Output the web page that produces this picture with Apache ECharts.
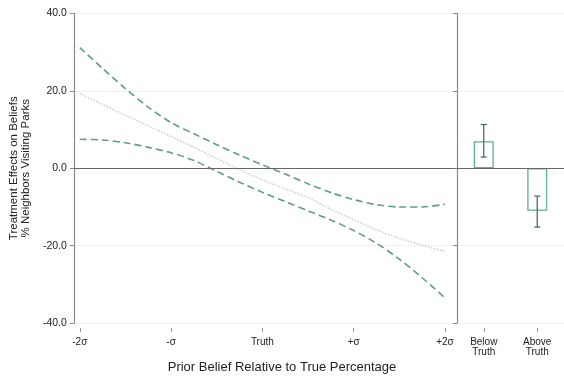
<!DOCTYPE html>
<html>
<head>
<meta charset="utf-8">
<script src="https://cdn.jsdelivr.net/npm/echarts@6/dist/echarts.min.js"></script>
<style>html,body{margin:0;padding:0;background:#fff}#c{width:564px;height:379px}</style>
</head>
<body>
<div id="c"></div>
<script>
// ---- data ----
var sigmaGrid = [-2, -1.75, -1.5, -1.25, -1, -0.75, -0.5, -0.25, 0, 0.25, 0.5, 0.75, 1, 1.25, 1.5, 1.75, 2];
var upperCI  = [31.2, 25.8, 20.6, 15.8, 11.8, 8.9, 6.1, 3.4, 0.9, -1.5, -4.0, -6.3, -8.1, -9.4, -10.0, -10.0, -9.3];
var estimate = [19.3, 16.5, 13.7, 11.0, 8.2, 5.4, 2.5, -0.4, -3.0, -5.3, -7.6, -10.6, -13.3, -15.9, -18.1, -19.9, -21.5];
var lowerCI  = [7.5, 7.3, 6.6, 5.4, 4.0, 2.0, -0.8, -3.6, -6.2, -8.6, -11.0, -13.4, -16.1, -19.4, -23.5, -28.3, -33.5];
var xTickValues = [-2, -1, 0, 1, 2];
var xTickLabels = ['-2σ', '-σ', 'Truth', '+σ', '+2σ'];
var barCategories = ['Below\nTruth', 'Above\nTruth'];
var barValues = [7.0, -11.0];
var barErrLow = [2.9, -15.2];
var barErrHigh = [11.3, -7.2];

function pairs(ys) { return sigmaGrid.map(function (x, i) { return [x, ys[i]]; }); }

var FONT = 'Liberation Sans';
var chart = echarts.init(document.getElementById('c'), null, {renderer: 'canvas'});

var dashStyle = {color: '#5f9d89', width: 1.6, type: [7, 4]};

chart.setOption({
  animation: false,
  textStyle: {fontFamily: FONT},
  title: {
    text: 'Prior Belief Relative to True Percentage',
    left: 'center', top: 356,
    textStyle: {fontFamily: FONT, fontSize: 13, fontWeight: 'normal', color: '#222'}
  },
  grid: [
    {left: 71, width: 384, top: 13.5, height: 309.5},
    {left: 457, width: 107, top: 13.5, height: 309.5}
  ],
  xAxis: [
    {
      type: 'value', gridIndex: 0, min: -2.065, max: 2.11, offset: 5,
      axisLine: {show: false, onZero: false},
      axisTick: {show: true, customValues: xTickValues, length: 4, lineStyle: {color: '#999'}},
      axisLabel: {
        customValues: xTickValues, margin: 9, fontSize: 10, color: '#222',
        formatter: function (v) { var i = xTickValues.indexOf(v); return i >= 0 ? xTickLabels[i] : ''; }
      },
      splitLine: {show: false}
    },
    {
      type: 'category', gridIndex: 1, data: barCategories, offset: 5,
      axisLine: {show: false, onZero: false},
      axisTick: {show: true, alignWithLabel: true, length: 4, lineStyle: {color: '#999'}},
      axisLabel: {margin: 9, fontSize: 10, lineHeight: 10, color: '#222'},
      splitLine: {show: false}
    }
  ],
  yAxis: [
    {
      type: 'value', gridIndex: 0, min: -40, max: 40, interval: 20,
      axisLine: {show: true, onZero: false, lineStyle: {color: '#8a8a8a', width: 1.2}},
      axisTick: {show: true, length: 4, lineStyle: {color: '#8a8a8a'}},
      axisLabel: {fontSize: 10.5, color: '#222', margin: 7, formatter: function (v) { return v.toFixed(1); }},
      splitLine: {show: true, lineStyle: {color: '#f1f1f1', width: 1}},
      name: 'Treatment Effects on Beliefs\n% Neighbors Visiting Parks',
      nameLocation: 'middle', nameGap: 40, nameRotate: 90,
      nameTextStyle: {fontSize: 11.5, lineHeight: 12, color: '#222', fontFamily: FONT}
    },
    {
      type: 'value', gridIndex: 1, min: -40, max: 40, interval: 20,
      axisLine: {show: true, onZero: false, lineStyle: {color: '#8a8a8a', width: 1.2}},
      axisTick: {show: true, length: 4, lineStyle: {color: '#8a8a8a'}},
      axisLabel: {show: false},
      splitLine: {show: true, lineStyle: {color: '#f1f1f1', width: 1}}
    }
  ],
  series: [
    {
      type: 'line', xAxisIndex: 0, yAxisIndex: 0, data: pairs(estimate), smooth: 0.3,
      showSymbol: false, lineStyle: {color: '#cfcfcf', width: 1.6, type: [1.5, 1.5]},
      markLine: {
        silent: true, symbol: 'none', label: {show: false},
        lineStyle: {color: '#666', width: 1.2, type: 'solid'},
        data: [{yAxis: 0}]
      }
    },
    {
      type: 'line', xAxisIndex: 0, yAxisIndex: 0, data: pairs(upperCI), smooth: 0.3,
      showSymbol: false, lineStyle: dashStyle
    },
    {
      type: 'line', xAxisIndex: 0, yAxisIndex: 0, data: pairs(lowerCI), smooth: 0.3,
      showSymbol: false, lineStyle: dashStyle
    },
    {
      type: 'bar', xAxisIndex: 1, yAxisIndex: 1, data: barValues, barWidth: 20,
      itemStyle: {color: 'rgba(255,255,255,0)', borderColor: '#5cb38f', borderWidth: 1.3},
      markLine: {
        silent: true, symbol: 'none', label: {show: false},
        lineStyle: {color: '#666', width: 1.2, type: 'solid'},
        data: [{yAxis: 0}]
      },
      z: 3
    },
    {
      type: 'custom', xAxisIndex: 1, yAxisIndex: 1,
      data: barCategories.map(function (c, i) { return [i, barErrLow[i], barErrHigh[i]]; }),
      renderItem: function (params, api) {
        var lo = api.coord([api.value(0), api.value(1)]);
        var hi = api.coord([api.value(0), api.value(2)]);
        var w = 3;
        var st = {stroke: '#4d6e60', lineWidth: 1.3};
        return {
          type: 'group',
          children: [
            {type: 'line', shape: {x1: lo[0], y1: lo[1], x2: hi[0], y2: hi[1]}, style: st},
            {type: 'line', shape: {x1: lo[0] - w, y1: lo[1], x2: lo[0] + w, y2: lo[1]}, style: st},
            {type: 'line', shape: {x1: hi[0] - w, y1: hi[1], x2: hi[0] + w, y2: hi[1]}, style: st}
          ]
        };
      },
      z: 4
    }
  ]
});
</script>
</body>
</html>
